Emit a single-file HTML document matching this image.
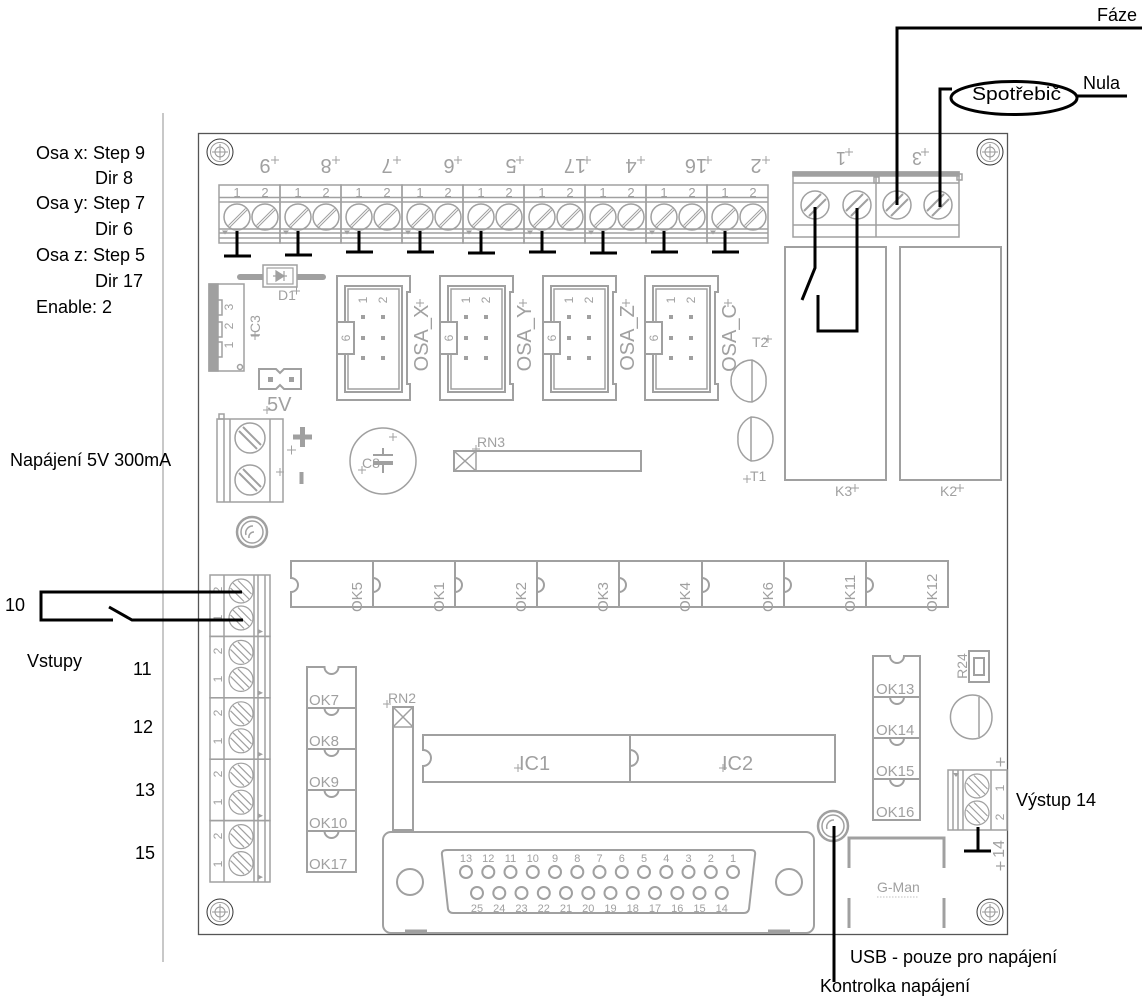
<!DOCTYPE html>
<html><head><meta charset="utf-8">
<style>
html,body{margin:0;padding:0;background:#fff;}
svg{display:block;}
.lb{fill:#000;font-family:"Liberation Sans","Noto Sans CJK SC",sans-serif;font-size:18px;}
.gt{fill:#a0a0a0;font-family:"Liberation Sans",sans-serif;}
.g{fill:none;stroke:#a0a0a0;stroke-width:2;}
.bk{fill:none;stroke:#000;stroke-width:3;}
</style></head><body>
<svg width="1146" height="998" viewBox="0 0 1146 998" xmlns="http://www.w3.org/2000/svg" xmlns:xlink="http://www.w3.org/1999/xlink">
<defs>
 <g id="tb" fill="none" stroke="#a0a0a0" stroke-width="1.5">
  <rect x="0" y="0" width="61" height="58"/>
  <path d="M0,12.5H61M0,17H61M0,44H61M0,48H61M0,53H61"/>
  <circle cx="18" cy="32" r="13"/><circle cx="46" cy="32" r="13"/>
  <path d="M9.5,40.5L26.5,23.5M11,42L28,25M37.5,40.5L54.5,23.5M39,42L56,25" stroke-width="1"/>
  <path d="M3,45.5h6l-3,4z" fill="#a0a0a0" stroke="none"/>
 </g>
 <g id="sh" fill="none" stroke-width="1">
  <circle r="13" stroke="#333"/><circle r="9.5" stroke="#999"/><circle r="5" stroke="#999"/>
  <path d="M-8,0H8M0,-8V8" stroke="#999"/>
 </g>
 <g id="osa" fill="none" stroke="#a0a0a0" stroke-width="2">
  <path d="M0,0H73V16H70V108H73V124H0Z"/>
  <rect x="8" y="10" width="57" height="106"/>
  <rect x="11" y="13" width="51" height="100" stroke-width="1.5"/>
  <rect x="0" y="46" width="17" height="32" fill="#fff"/>
  <path d="M24,39h4v4h-4zM44,39h4v4h-4zM24,60h4v4h-4zM44,60h4v4h-4zM24,80h4v4h-4zM44,80h4v4h-4z" fill="#a0a0a0" stroke="none"/>
 </g>
 <g id="hc" fill="none" stroke="#a0a0a0" stroke-width="1.2">
  <circle r="12"/><path d="M-8,-8L8,8M-3,-10.5L10.5,3M-10.5,-3L3,10.5"/>
 </g>
 <g id="it" fill="none" stroke="#a0a0a0" stroke-width="1.5">
  <rect x="0" y="0" width="60" height="61.4"/>
  <path d="M14,0V61.4M44,0V61.4M48,0V61.4M55,0V61.4"/>
  <use xlink:href="#hc" href="#hc" x="31" y="16"/>
  <use xlink:href="#hc" href="#hc" x="31" y="43"/>
  <path d="M48,54l5,2.5l-5,2.5z" fill="#a0a0a0" stroke="none"/>
 </g>
 <g id="pc" fill="none" stroke="#a0a0a0" stroke-width="1.5">
  <circle r="15"/><path d="M-11,-7L7,11M-7,-11L11,7" stroke-width="2"/>
 </g>
 <g id="rc" fill="none" stroke="#a0a0a0" stroke-width="1.5">
  <circle r="14"/><path d="M-11,6L6,-11M-6,11L11,-6" stroke-width="2"/>
 </g>
 <g id="oc" fill="none" stroke="#a0a0a0" stroke-width="1.2">
  <circle r="12"/><path d="M-8,-8L8,8M-3,-10.5L10.5,3M-10.5,-3L3,10.5"/>
 </g>
</defs>

<!-- separator line -->
<line x1="163" y1="113" x2="163" y2="962" stroke="#c8c8c8" stroke-width="2"/>

<!-- board -->
<rect x="198.5" y="133.5" width="809" height="801" fill="none" stroke="#555" stroke-width="1.3"/>
<use xlink:href="#sh" href="#sh" x="220" y="152"/>
<use xlink:href="#sh" href="#sh" x="990" y="152"/>
<use xlink:href="#sh" href="#sh" x="220" y="912"/>
<use xlink:href="#sh" href="#sh" x="990" y="912"/>

<!-- left labels -->
<text class="lb" x="36" y="159">Osa x: Step 9</text>
<text class="lb" x="95" y="184">Dir 8</text>
<text class="lb" x="36" y="209">Osa y: Step 7</text>
<text class="lb" x="95" y="235">Dir 6</text>
<text class="lb" x="36" y="261">Osa z: Step 5</text>
<text class="lb" x="95" y="287">Dir 17</text>
<text class="lb" x="36" y="313">Enable: 2</text>
<text class="lb" x="10" y="466">Napájení 5V 300mA</text>
<text class="lb" x="5" y="611">10</text>
<text class="lb" x="27" y="667">Vstupy</text>
<text class="lb" x="133" y="675">11</text>
<text class="lb" x="133" y="733">12</text>
<text class="lb" x="135" y="796">13</text>
<text class="lb" x="135" y="859">15</text>

<!-- right labels -->
<text class="lb" x="1097" y="21">Fáze</text>
<text class="lb" x="1083" y="89">Nula</text>
<text class="lb" x="972" y="100" textLength="89" lengthAdjust="spacingAndGlyphs">Spotřebič</text>
<text class="lb" x="1016" y="806">Výstup 14</text>
<text class="lb" x="850" y="963">USB - pouze pro napájení</text>
<text class="lb" x="820" y="992">Kontrolka napájení</text>

<!-- top terminal row -->
<use xlink:href="#tb" href="#tb" x="219" y="185"/>
<use xlink:href="#tb" href="#tb" x="280" y="185"/>
<use xlink:href="#tb" href="#tb" x="341" y="185"/>
<use xlink:href="#tb" href="#tb" x="402" y="185"/>
<use xlink:href="#tb" href="#tb" x="463" y="185"/>
<use xlink:href="#tb" href="#tb" x="524" y="185"/>
<use xlink:href="#tb" href="#tb" x="585" y="185"/>
<use xlink:href="#tb" href="#tb" x="646" y="185"/>
<use xlink:href="#tb" href="#tb" x="707" y="185"/>
<g class="gt" font-size="13" text-anchor="middle">
 <text x="237" y="197">1</text><text x="265" y="197">2</text>
 <text x="298" y="197">1</text><text x="326" y="197">2</text>
 <text x="359" y="197">1</text><text x="387" y="197">2</text>
 <text x="420" y="197">1</text><text x="448" y="197">2</text>
 <text x="481" y="197">1</text><text x="509" y="197">2</text>
 <text x="542" y="197">1</text><text x="570" y="197">2</text>
 <text x="603" y="197">1</text><text x="631" y="197">2</text>
 <text x="664" y="197">1</text><text x="692" y="197">2</text>
 <text x="725" y="197">1</text><text x="753" y="197">2</text>
</g>
<g class="gt" font-size="20" text-anchor="middle">
 <text transform="translate(265,159) rotate(180)">9</text>
 <text transform="translate(326,159) rotate(180)">8</text>
 <text transform="translate(387,159) rotate(180)">7</text>
 <text transform="translate(449,159) rotate(180)">6</text>
 <text transform="translate(511,159) rotate(180)">5</text>
 <text transform="translate(575,159) rotate(180)">17</text>
 <text transform="translate(631,159) rotate(180)">4</text>
 <text transform="translate(696,159) rotate(180)">16</text>
 <text transform="translate(756,159) rotate(180)">2</text>
</g>
<path d="M271,160h8M275,156v8M332,160h8M336,156v8M393,160h8M397,156v8M454,160h8M458,156v8M516,160h8M520,156v8M583,160h8M587,156v8M637,160h8M641,156v8M704,160h8M708,156v8M762,160h8M766,156v8" stroke="#a0a0a0" stroke-width="1"/>
<!-- T bars -->
<path class="bk" d="M237,231V256M224,256H251
M298,231V255M285,255H312
M359,231V252M346,252H373
M420,231V252M407,252H434
M481,231V253M468,253H495
M542,231V252M529,252H556
M603,231V253M590,253H617
M664,231V252M651,252H678
M725,231V252M712,252H739"/>

<!-- relay terminal -->
<g fill="none" stroke="#a0a0a0" stroke-width="1.5">
 <rect x="793" y="172" width="166" height="65"/>
 <rect x="793" y="172" width="166" height="4" fill="#a0a0a0"/>
 <path d="M793,183H959M793,225H959M876,176V237"/>
 <rect x="874" y="177" width="5" height="6"/>
 <rect x="957" y="174" width="5" height="6"/>
</g>
<use xlink:href="#rc" href="#rc" x="815" y="205"/>
<use xlink:href="#rc" href="#rc" x="857" y="205"/>
<use xlink:href="#rc" href="#rc" x="897" y="205"/>
<use xlink:href="#rc" href="#rc" x="938" y="205"/>
<g class="gt" font-size="18" text-anchor="middle">
 <text transform="translate(841,152) rotate(180)">1</text>
 <text transform="translate(917,152) rotate(180)">3</text>
</g>
<path d="M845,152h8M849,148v8M921,152h8M925,148v8" stroke="#a0a0a0" stroke-width="1"/>

<!-- relays -->
<rect class="g" x="785" y="247" width="101" height="233"/>
<rect class="g" x="900" y="247" width="101" height="233"/>
<text class="gt" font-size="14" x="835" y="496">K3</text>
<text class="gt" font-size="14" x="940" y="496">K2</text>
<path d="M851,488h8M855,484v8M956,488h8M960,484v8" stroke="#a0a0a0" stroke-width="1"/>

<!-- IC3 -->
<g fill="none" stroke="#a0a0a0" stroke-width="1.5">
 <rect x="209" y="284" width="35" height="87"/>
 <rect x="209" y="284" width="9" height="87" fill="#a0a0a0"/>
 <path d="M218,300h4v15h-4M218,322h4v15h-4M218,342h4v15h-4"/>
 <circle cx="240" cy="367" r="2.5"/>
</g>
<g class="gt" font-size="12" text-anchor="middle">
 <text transform="translate(233,307) rotate(-90)">3</text>
 <text transform="translate(233,326) rotate(-90)">2</text>
 <text transform="translate(233,345) rotate(-90)">1</text>
</g>
<text class="gt" font-size="14" text-anchor="middle" transform="translate(260,326) rotate(-90)">IC3</text>
<path d="M251,336h8M255,332v8" stroke="#a0a0a0" stroke-width="1"/>

<!-- D1 -->
<line x1="240" y1="277" x2="323" y2="277" stroke="#a0a0a0" stroke-width="6" stroke-linecap="round"/>
<rect x="263" y="265" width="34" height="22" fill="#fff" stroke="#a0a0a0" stroke-width="1.5"/>
<rect x="267" y="268" width="26" height="16" fill="none" stroke="#a0a0a0" stroke-width="1.2"/>
<path d="M273,276H287M276,271v10l8,-5zM284,271v10" fill="#a0a0a0" stroke="#a0a0a0" stroke-width="1.2"/>
<text class="gt" font-size="14" x="278" y="300">D1</text>
<path d="M293,291h7M296.5,287.5v7" stroke="#a0a0a0" stroke-width="1"/>

<!-- OSA connectors -->
<use xlink:href="#osa" href="#osa" x="337" y="276"/>
<use xlink:href="#osa" href="#osa" x="440" y="276"/>
<use xlink:href="#osa" href="#osa" x="543" y="276"/>
<use xlink:href="#osa" href="#osa" x="645" y="276"/>
<g class="gt" font-size="12" text-anchor="middle">
 <text transform="translate(350,338) rotate(-90)">6</text>
 <text transform="translate(367,300) rotate(-90)">1</text>
 <text transform="translate(387,300) rotate(-90)">2</text>
 <text transform="translate(453,338) rotate(-90)">6</text>
 <text transform="translate(470,300) rotate(-90)">1</text>
 <text transform="translate(490,300) rotate(-90)">2</text>
 <text transform="translate(556,338) rotate(-90)">6</text>
 <text transform="translate(573,300) rotate(-90)">1</text>
 <text transform="translate(593,300) rotate(-90)">2</text>
 <text transform="translate(658,338) rotate(-90)">6</text>
 <text transform="translate(675,300) rotate(-90)">1</text>
 <text transform="translate(695,300) rotate(-90)">2</text>
</g>
<g class="gt" font-size="20" text-anchor="middle">
 <text transform="translate(428,338) rotate(-90)">OSA_X</text>
 <text transform="translate(531,338) rotate(-90)">OSA_Y</text>
 <text transform="translate(634,338) rotate(-90)">OSA_Z</text>
 <text transform="translate(736,338) rotate(-90)">OSA_C</text>
</g>
<path d="M416,303h8M420,299v8M519,303h8M523,299v8M622,303h8M626,299v8M724,303h8M728,299v8" stroke="#a0a0a0" stroke-width="1"/>

<!-- Jumper 5V -->
<path class="g" d="M259,369H276L280,373L284,369H301V389H284L280,385L276,389H259Z" stroke-width="1.5"/>
<rect x="268" y="377" width="5" height="5" fill="#a0a0a0"/>
<rect x="289" y="377" width="5" height="5" fill="#a0a0a0"/>
<text class="gt" font-size="20" x="267" y="411">5V</text>
<path d="M263,410h8M267,406v8" stroke="#a0a0a0" stroke-width="1"/>

<!-- power terminal -->
<g fill="none" stroke="#a0a0a0" stroke-width="1.5">
 <rect x="217" y="419" width="66" height="83"/>
 <path d="M224,419V502M230,419V502M270,419V502"/>
 <rect x="219" y="414" width="5" height="5"/>
</g>
<use xlink:href="#pc" href="#pc" x="250" y="438"/>
<use xlink:href="#pc" href="#pc" x="250" y="480"/>
<path d="M293,437H312M302.5,427V447" stroke="#a0a0a0" stroke-width="5"/>
<rect x="299.5" y="472" width="4" height="12" fill="#a0a0a0"/>
<path d="M287,450h9M291.5,445.5v9M276,472h8M280,468v8" stroke="#a0a0a0" stroke-width="1"/>

<!-- left LED -->
<circle cx="252" cy="532" r="15" fill="none" stroke="#a0a0a0" stroke-width="2.5"/>
<circle cx="252" cy="532" r="11" fill="none" stroke="#a0a0a0" stroke-width="1.5"/>
<path d="M246,535a7,7 0 0 1 7,-9M249,538a5,5 0 0 1 5,-6" fill="none" stroke="#a0a0a0" stroke-width="1.5"/>

<!-- C8 -->
<circle cx="383" cy="461" r="33" fill="none" stroke="#a0a0a0" stroke-width="1.5"/>
<path d="M383,448V455M373,455H393M373,463H393M383,463V473" fill="none" stroke="#a0a0a0" stroke-width="2"/>
<rect x="373" y="461" width="20" height="4" fill="#a0a0a0"/>
<text class="gt" font-size="14" x="362" y="468">C8</text>
<path d="M389,437h8M393,433v8M358,470h8M362,466v8" stroke="#a0a0a0" stroke-width="1"/>

<!-- RN3 -->
<rect class="g" x="454" y="451" width="187" height="20" stroke-width="1.5"/>
<path d="M476,451V471M454,451L476,471M476,451L454,471" stroke="#a0a0a0" stroke-width="1.5"/>
<text class="gt" font-size="14" x="477" y="447">RN3</text>
<path d="M472,449h8M476,445v8" stroke="#a0a0a0" stroke-width="1"/>

<!-- T2, T1 -->
<path d="M752,360A21,21 0 1 0 752,402A23,21 0 0 0 766,381A23,21 0 0 0 752,360Z" fill="none" stroke="#a0a0a0" stroke-width="1.5"/>
<line x1="752" y1="360" x2="752" y2="402" stroke="#a0a0a0" stroke-width="1.5"/>
<path d="M751,417A22,22 0 1 1 751,461A22,22 0 0 1 738,439A22,22 0 0 1 751,417Z" fill="none" stroke="#a0a0a0" stroke-width="1.5"/>
<line x1="751" y1="417" x2="751" y2="461" stroke="#a0a0a0" stroke-width="1.5"/>
<text class="gt" font-size="14" x="752" y="347">T2</text>
<text class="gt" font-size="14" x="750" y="481">T1</text>
<path d="M764,339h8M768,335v8M743,479h8M747,475v8" stroke="#a0a0a0" stroke-width="1"/>

<!-- OK row -->
<g class="g">
 <path d="M291,561H373V607H291V592a7,7 0 0 0 0,-14Z"/>
 <path d="M373,561H455V607H373V592a7,7 0 0 0 0,-14Z"/>
 <path d="M455,561H537V607H455V592a7,7 0 0 0 0,-14Z"/>
 <path d="M537,561H619V607H537V592a7,7 0 0 0 0,-14Z"/>
 <path d="M619,561H702V607H619V592a7,7 0 0 0 0,-14Z"/>
 <path d="M702,561H784V607H702V592a7,7 0 0 0 0,-14Z"/>
 <path d="M784,561H866V607H784V592a7,7 0 0 0 0,-14Z"/>
 <path d="M866,561H948V607H866V592a7,7 0 0 0 0,-14Z"/>
</g>
<g class="gt" font-size="15">
 <text transform="translate(362,612) rotate(-90)">OK5</text>
 <text transform="translate(444,612) rotate(-90)">OK1</text>
 <text transform="translate(526,612) rotate(-90)">OK2</text>
 <text transform="translate(608,612) rotate(-90)">OK3</text>
 <text transform="translate(690,612) rotate(-90)">OK4</text>
 <text transform="translate(773,612) rotate(-90)">OK6</text>
 <text transform="translate(855,612) rotate(-90)">OK11</text>
 <text transform="translate(937,612) rotate(-90)">OK12</text>
</g>

<!-- left input terminals -->
<use xlink:href="#it" href="#it" x="210" y="575"/>
<use xlink:href="#it" href="#it" x="210" y="636.4"/>
<use xlink:href="#it" href="#it" x="210" y="697.8"/>
<use xlink:href="#it" href="#it" x="210" y="759.2"/>
<use xlink:href="#it" href="#it" x="210" y="820.6"/>
<g class="gt" font-size="12" text-anchor="middle">
 <text transform="translate(222,590) rotate(-90)">2</text><text transform="translate(222,618) rotate(-90)">1</text>
 <text transform="translate(222,651) rotate(-90)">2</text><text transform="translate(222,679) rotate(-90)">1</text>
 <text transform="translate(222,713) rotate(-90)">2</text><text transform="translate(222,741) rotate(-90)">1</text>
 <text transform="translate(222,774) rotate(-90)">2</text><text transform="translate(222,802) rotate(-90)">1</text>
 <text transform="translate(222,836) rotate(-90)">2</text><text transform="translate(222,864) rotate(-90)">1</text>
</g>

<!-- OK7 column -->
<g class="g">
 <path d="M307,667H324.5a7,7 0 0 0 14,0H356V708H307Z"/>
 <path d="M307,708H324.5a7,7 0 0 0 14,0H356V749H307Z"/>
 <path d="M307,749H324.5a7,7 0 0 0 14,0H356V790H307Z"/>
 <path d="M307,790H324.5a7,7 0 0 0 14,0H356V831H307Z"/>
 <path d="M307,831H324.5a7,7 0 0 0 14,0H356V872H307Z"/>
</g>
<g class="gt" font-size="15">
 <text x="309" y="705">OK7</text>
 <text x="309" y="746">OK8</text>
 <text x="309" y="787">OK9</text>
 <text x="309" y="828">OK10</text>
 <text x="309" y="869">OK17</text>
</g>

<!-- RN2 -->
<rect class="g" x="393" y="707" width="20" height="123" stroke-width="1.5"/>
<path d="M393,727H413M393,707L413,727M413,707L393,727" stroke="#a0a0a0" stroke-width="1.5"/>
<text class="gt" font-size="14" x="388" y="703">RN2</text>
<path d="M383,704h8M387,700v8" stroke="#a0a0a0" stroke-width="1"/>

<!-- IC1 IC2 -->
<path class="g" d="M423,735H630V782H423V766a8,8 0 0 0 0,-16Z"/>
<path class="g" d="M630,735H835V782H630V766a8,8 0 0 0 0,-16Z"/>
<text class="gt" font-size="20" x="519" y="770">IC1</text>
<text class="gt" font-size="20" x="722" y="770">IC2</text>
<path d="M514,768h8M518,764v8M719,768h8M723,764v8" stroke="#a0a0a0" stroke-width="1"/>

<!-- DB25 -->
<rect x="383" y="832" width="431" height="101" rx="8" fill="none" stroke="#a0a0a0" stroke-width="2"/>
<path d="M447,850H751Q756,850 755,855L749,909Q748,913 744,913H453Q449,913 448,909L442,855Q441,850 447,850Z" fill="none" stroke="#a0a0a0" stroke-width="2"/>
<circle cx="410" cy="882" r="13" fill="none" stroke="#a0a0a0" stroke-width="2"/>
<circle cx="789" cy="882" r="13" fill="none" stroke="#a0a0a0" stroke-width="2"/>
<g fill="none" stroke="#a0a0a0" stroke-width="2">
 <circle cx="466" cy="872" r="6"/><circle cx="488.3" cy="872" r="6"/><circle cx="510.5" cy="872" r="6"/><circle cx="532.8" cy="872" r="6"/><circle cx="555" cy="872" r="6"/><circle cx="577.3" cy="872" r="6"/><circle cx="599.5" cy="872" r="6"/><circle cx="621.8" cy="872" r="6"/><circle cx="644" cy="872" r="6"/><circle cx="666.3" cy="872" r="6"/><circle cx="688.5" cy="872" r="6"/><circle cx="710.8" cy="872" r="6"/><circle cx="733" cy="872" r="6"/>
 <circle cx="477" cy="893" r="6"/><circle cx="499.3" cy="893" r="6"/><circle cx="521.5" cy="893" r="6"/><circle cx="543.8" cy="893" r="6"/><circle cx="566" cy="893" r="6"/><circle cx="588.3" cy="893" r="6"/><circle cx="610.5" cy="893" r="6"/><circle cx="632.8" cy="893" r="6"/><circle cx="655" cy="893" r="6"/><circle cx="677.3" cy="893" r="6"/><circle cx="699.5" cy="893" r="6"/><circle cx="721.8" cy="893" r="6"/>
</g>
<g class="gt" font-size="11" text-anchor="middle">
 <text x="466" y="862">13</text><text x="488.3" y="862">12</text><text x="510.5" y="862">11</text><text x="532.8" y="862">10</text><text x="555" y="862">9</text><text x="577.3" y="862">8</text><text x="599.5" y="862">7</text><text x="621.8" y="862">6</text><text x="644" y="862">5</text><text x="666.3" y="862">4</text><text x="688.5" y="862">3</text><text x="710.8" y="862">2</text><text x="733" y="862">1</text>
 <text x="477" y="912">25</text><text x="499.3" y="912">24</text><text x="521.5" y="912">23</text><text x="543.8" y="912">22</text><text x="566" y="912">21</text><text x="588.3" y="912">20</text><text x="610.5" y="912">19</text><text x="632.8" y="912">18</text><text x="655" y="912">17</text><text x="677.3" y="912">16</text><text x="699.5" y="912">15</text><text x="721.8" y="912">14</text>
</g>
<path d="M405,931H427M768,931H790" stroke="#a0a0a0" stroke-width="3"/>

<!-- bottom LED -->
<circle cx="833" cy="826" r="15" fill="none" stroke="#a0a0a0" stroke-width="2.5"/>
<circle cx="833" cy="826" r="11" fill="none" stroke="#a0a0a0" stroke-width="1.5"/>
<path d="M827,829a7,7 0 0 1 7,-9" fill="none" stroke="#a0a0a0" stroke-width="1.5"/>

<!-- USB -->
<path d="M849,868V838H944V868M849,898V928M944,898V928" fill="none" stroke="#a0a0a0" stroke-width="3"/>
<text class="gt" font-size="14" x="877" y="892">G-Man</text>
<path d="M877,897H918" stroke="#c0c0c0" stroke-width="1" stroke-dasharray="1.5,1.5"/>

<!-- OK13 column -->
<g class="g">
 <path d="M873,656H890a7,7 0 0 0 14,0H920V697H873Z"/>
 <path d="M873,697H890a7,7 0 0 0 14,0H920V738H873Z"/>
 <path d="M873,738H890a7,7 0 0 0 14,0H920V779H873Z"/>
 <path d="M873,779H890a7,7 0 0 0 14,0H920V820H873Z"/>
</g>
<g class="gt" font-size="15">
 <text x="876" y="694">OK13</text>
 <text x="876" y="735">OK14</text>
 <text x="876" y="776">OK15</text>
 <text x="876" y="817">OK16</text>
</g>

<!-- R24 -->
<rect x="969" y="651" width="20" height="31" fill="none" stroke="#a0a0a0" stroke-width="2"/>
<rect x="974" y="658" width="10" height="17" fill="none" stroke="#a0a0a0" stroke-width="2"/>
<text class="gt" font-size="14" text-anchor="middle" transform="translate(967,666) rotate(-90)">R24</text>

<!-- transistor right -->
<path d="M979,696A22,22 0 1 0 979,738A20,22 0 0 0 992,717A20,22 0 0 0 979,696Z" fill="none" stroke="#a0a0a0" stroke-width="1.5"/>
<line x1="979" y1="697" x2="979" y2="737" stroke="#a0a0a0" stroke-width="1.5"/>

<!-- output terminal -->
<g fill="none" stroke="#a0a0a0" stroke-width="1.5">
 <rect x="948" y="770" width="59" height="60"/>
 <path d="M953,770V830M958,770V830M963,770V830M991,770V830"/>
</g>
<use xlink:href="#oc" href="#oc" x="977" y="786"/>
<use xlink:href="#oc" href="#oc" x="977" y="813"/>
<path d="M953,773h6l-3,4z" fill="#a0a0a0"/>
<g class="gt" font-size="12" text-anchor="middle">
 <text transform="translate(1004,788) rotate(-90)">1</text>
 <text transform="translate(1004,817) rotate(-90)">2</text>
</g>
<text class="gt" font-size="16" text-anchor="middle" transform="translate(1004,849) rotate(-90)">14</text>
<path d="M996,762h9M1000.5,757.5v9M996,866h9M1000.5,861.5v9" stroke="#a0a0a0" stroke-width="1.2"/>

<!-- black wires -->
<path class="bk" d="M978,827V851M964,851H991"/>
<path class="bk" d="M834,826V982"/>
<path class="bk" d="M1142,28H897V205"/>
<path class="bk" d="M952,89H940V207"/>
<ellipse cx="1014" cy="98" rx="63" ry="16.5" fill="none" stroke="#000" stroke-width="3"/>
<path class="bk" d="M1077,96H1127"/>
<path class="bk" d="M815,207V268L802,300"/>
<path class="bk" d="M857,208V331H818V295"/>
<path class="bk" d="M242,592H41V620H113M109,607L132,620H243"/>
</svg>
</body></html>
